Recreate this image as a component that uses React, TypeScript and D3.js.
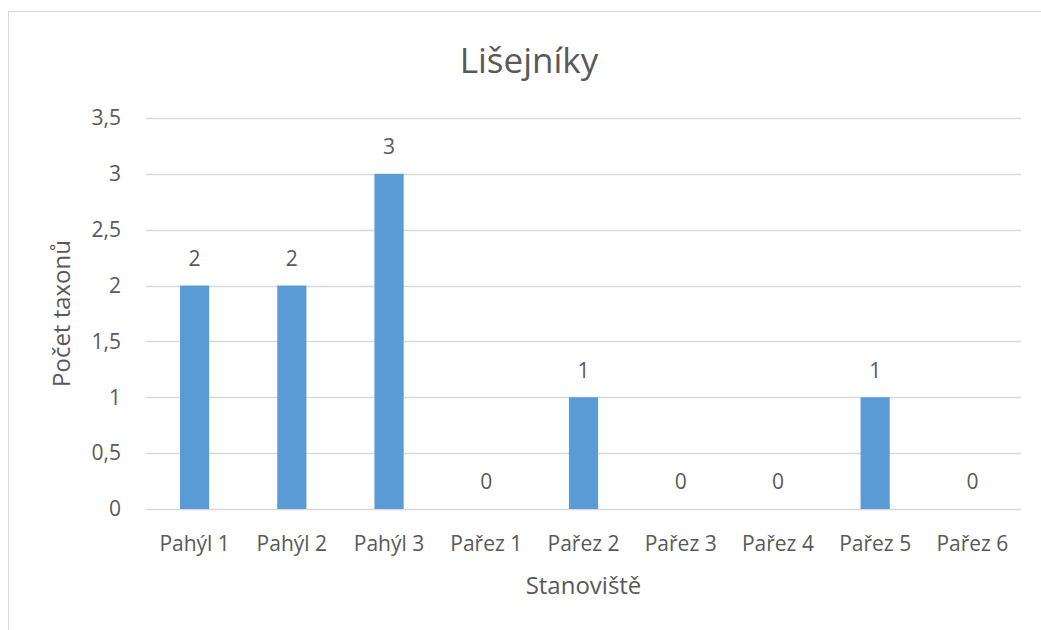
import { useEffect, useRef } from 'react';
import * as d3 from 'd3';

// Chart data
const categories = ['Pahýl 1', 'Pahýl 2', 'Pahýl 3', 'Pařez 1', 'Pařez 2', 'Pařez 3', 'Pařez 4', 'Pařez 5', 'Pařez 6'];
const values = [2, 2, 3, 0, 1, 0, 0, 1, 0];
const yTicks = [0, 0.5, 1, 1.5, 2, 2.5, 3, 3.5];
const title = 'Lišejníky';
const xTitle = 'Stanoviště';
const yTitle = 'Počet taxonů';

const W = 1041;
const H = 630;
const FONT = '"Open Sans", "Noto Sans", sans-serif';
const TEXT = '#595959';

export default function App() {
  const svgRef = useRef<SVGSVGElement>(null);

  useEffect(() => {
    if (!svgRef.current) return;
    const svg = d3.select(svgRef.current);
    svg.selectAll('*').remove();

    const margin = { top: 118, right: 20, bottom: 121, left: 146 };
    const innerWidth = W - margin.left - margin.right;
    const innerHeight = H - margin.top - margin.bottom;

    // Chart frame (cropped on the right and bottom like the original)
    svg
      .append('rect')
      .attr('x', 8.5)
      .attr('y', 11.5)
      .attr('width', 1060)
      .attr('height', 640)
      .attr('fill', '#fff')
      .attr('stroke', '#d9d9d9');

    const g = svg.append('g').attr('transform', `translate(${margin.left},${margin.top})`);

    const x = d3.scaleBand<string>().domain(categories).range([0, innerWidth]).paddingInner(0).paddingOuter(0);
    const y = d3.scaleLinear().domain([0, 3.5]).range([innerHeight, 0]);

    // Grid lines
    g.append('g')
      .selectAll('line')
      .data(yTicks)
      .join('line')
      .attr('x1', 0)
      .attr('x2', innerWidth)
      .attr('y1', (d) => Math.round(y(d)) + 0.5)
      .attr('y2', (d) => Math.round(y(d)) + 0.5)
      .attr('stroke', '#d9d9d9')
      .attr('stroke-width', 1.3);

    // Y tick labels
    g.append('g')
      .selectAll('text')
      .data(yTicks)
      .join('text')
      .attr('x', -25)
      .attr('y', (d) => y(d))
      .attr('dy', '0.35em')
      .attr('text-anchor', 'end')
      .attr('fill', TEXT)
      .style('font-family', FONT)
      .style('font-size', '21px')
      .text((d) => d3.format('')(d).replace('.', ','));

    // Bars
    const barW = x.bandwidth() * 0.3;
    g.append('g')
      .selectAll('rect')
      .data(values)
      .join('rect')
      .attr('x', (_, i) => (x(categories[i]) ?? 0) + (x.bandwidth() - barW) / 2)
      .attr('y', (d) => y(d))
      .attr('width', barW)
      .attr('height', (d) => innerHeight - y(d))
      .attr('fill', '#5b9bd5');

    // Data labels
    g.append('g')
      .selectAll('text')
      .data(values)
      .join('text')
      .attr('x', (_, i) => (x(categories[i]) ?? 0) + x.bandwidth() / 2)
      .attr('y', (d) => y(d) - 27)
      .attr('dy', '0.35em')
      .attr('text-anchor', 'middle')
      .attr('fill', TEXT)
      .style('font-family', FONT)
      .style('font-size', '21px')
      .text((d) => String(d));

    // Category labels
    g.append('g')
      .selectAll('text')
      .data(categories)
      .join('text')
      .attr('x', (d) => (x(d) ?? 0) + x.bandwidth() / 2)
      .attr('y', innerHeight + 42)
      .attr('text-anchor', 'middle')
      .attr('fill', TEXT)
      .style('font-family', FONT)
      .style('font-size', '21px')
      .text((d) => d);

    // Title
    svg
      .append('text')
      .attr('x', 529)
      .attr('y', 73)
      .attr('text-anchor', 'middle')
      .attr('fill', TEXT)
      .style('font-family', FONT)
      .style('font-size', '35px')
      .text(title);

    // Axis titles
    svg
      .append('text')
      .attr('x', margin.left + innerWidth / 2)
      .attr('y', 594)
      .attr('text-anchor', 'middle')
      .attr('fill', TEXT)
      .style('font-family', FONT)
      .style('font-size', '24px')
      .text(xTitle);

    svg
      .append('text')
      .attr('transform', `translate(62,${margin.top + innerHeight / 2}) rotate(-90)`)
      .attr('dy', '0.35em')
      .attr('text-anchor', 'middle')
      .attr('fill', TEXT)
      .style('font-family', FONT)
      .style('font-size', '24px')
      .text(yTitle);
  }, []);

  return (
    <svg
      ref={svgRef}
      width={W}
      height={H}
      style={{ position: 'absolute', left: 0, top: 0, display: 'block' }}
    />
  );
}
